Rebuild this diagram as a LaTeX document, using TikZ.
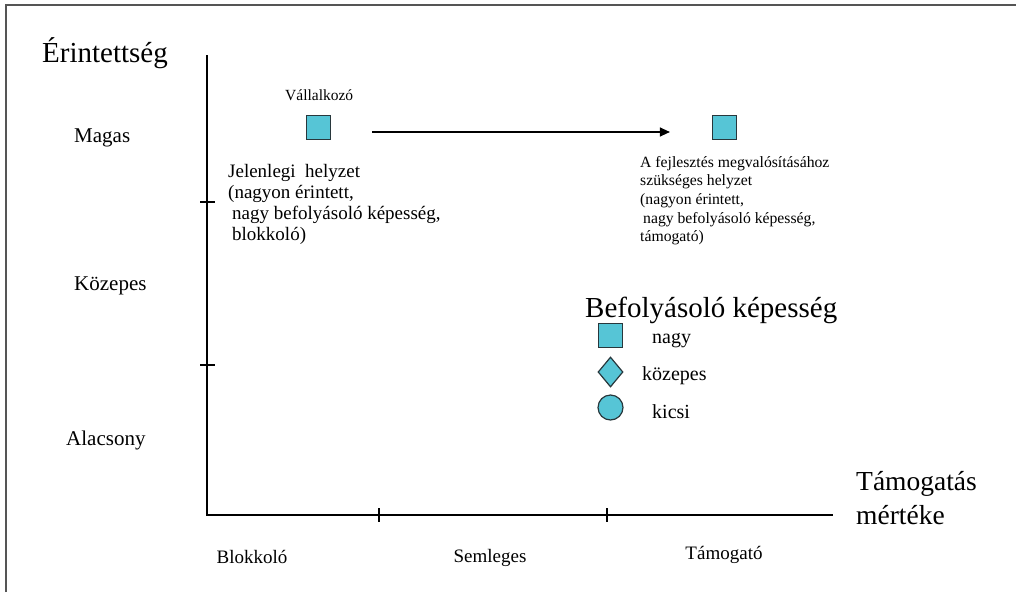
\documentclass[tikz,border=0pt]{standalone}
\usepackage{fontspec}
\setmainfont{Liberation Serif}
\usetikzlibrary{arrows.meta,shapes.geometric}
\definecolor{marker}{RGB}{86,197,214}
\definecolor{markerline}{RGB}{40,55,60}
\definecolor{framegray}{RGB}{85,85,85}
\begin{document}
\begin{tikzpicture}[x=1pt,y=-1pt,
  lbl/.style={inner sep=0pt, anchor=base west},
  axisline/.style={line width=1.5pt, black, line join=miter},
  tickline/.style={line width=1.1pt, black},
  markbase/.style={draw=markerline, fill=marker, line width=1.2pt, inner sep=0pt},
  sqmark/.style={markbase, rectangle, minimum size=24pt},
  dmmark/.style={markbase, diamond, minimum width=25pt, minimum height=30pt},
  ccmark/.style={markbase, circle, minimum size=25pt},
  big/.style={font=\fontsize{29}{33}\selectfont},
  mid/.style={font=\fontsize{21}{25}\selectfont},
  small/.style={font=\fontsize{19}{22}\selectfont},
  legtext/.style={font=\fontsize{20}{22}\selectfont}
]
\useasboundingbox (0,0) rectangle (1016,592);
% open frame: top and left edges
\draw[framegray, line width=1.5pt] (6,592) -- (6,5) -- (1016,5);

% axes
\coordinate (ytop) at (207,55);
\coordinate (origin) at (207,515);
\coordinate (xend) at (833,515);
\draw[axisline] (ytop) -- (origin) -- (xend);

% tick marks
\draw[tickline] (200,202) -- (215,202);
\draw[tickline] (200,365) -- (215,365);
\draw[tickline] (379,508) -- (379,522);
\draw[tickline] (607,508) -- (607,522);

% axis titles
\node[lbl, big] (ytitle) at (42,62) {Érintettség};
\node[lbl, font=\fontsize{27.5}{33}\selectfont] (xtitle1) at (856,490) {Támogatás};
\node[lbl, font=\fontsize{27.5}{33}\selectfont] (xtitle2) at (856,524) {mértéke};

% vertical scale
\node[lbl, mid] (high) at (74,142) {Magas};
\node[lbl, mid] (medium) at (74,290) {Közepes};
\node[lbl, mid] (low) at (66,445) {Alacsony};

% horizontal scale
\node[small, inner sep=0pt, anchor=base] (block) at (252,563) {Blokkoló};
\node[small, inner sep=0pt, anchor=base] (neutral) at (490,562) {Semleges};
\node[small, inner sep=0pt, anchor=base] (support) at (724,559) {Támogató};

% stakeholder: present and required position
\node[lbl, font=\fontsize{15.5}{18}\selectfont] (actor) at (285,100) {Vállalkozó};
\node[sqmark] (now) at (318.5,127.5) {};
\node[sqmark] (target) at (724.5,127.5) {};
\draw[line width=1.2pt, -{Triangle[length=10pt,width=9pt]}, shorten <=41pt, shorten >=42pt]
  ([yshift=-4.5pt]now.east) -- ([yshift=-4.5pt]target.west);

\node[lbl] (nowtext) at (228,177) {\fontsize{19}{21}\selectfont
  \begin{tabular}[t]{@{}l@{}}Jelenlegi\ \ helyzet\\(nagyon érintett,\\\hspace*{4pt}nagy befolyásoló képesség,\\\hspace*{4pt}blokkoló)\end{tabular}};
\node[lbl] (targettext) at (640,167) {\fontsize{15.7}{18.7}\selectfont
  \begin{tabular}[t]{@{}l@{}}A fejlesztés megvalósításához\\szükséges helyzet\\(nagyon érintett,\\\hspace*{3pt}nagy befolyásoló képesség,\\támogató)\end{tabular}};

% legend
\node[lbl, font=\fontsize{29}{32}\selectfont] (legtitle) at (585,317) {Befolyásoló képesség};
\node[sqmark] (legsq) at (610.5,335.5) {};
\node[dmmark] (legdm) at (610.5,372) {};
\node[ccmark] (legcc) at (610.5,407.5) {};
\node[lbl, legtext] (legbig) at (652,343) {nagy};
\node[lbl, legtext] (legmid) at (642,380) {közepes};
\node[lbl, legtext] (legsmall) at (652,418) {kicsi};
\end{tikzpicture}
\end{document}
